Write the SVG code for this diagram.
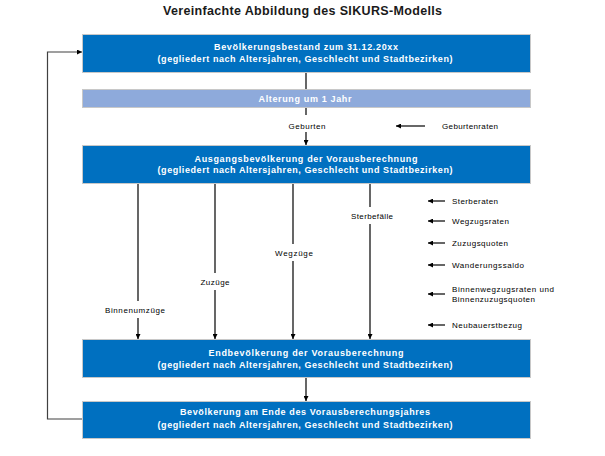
<svg xmlns="http://www.w3.org/2000/svg" width="605" height="456" viewBox="0 0 605 456">
<style>
.box{fill:#0070C0;stroke:#C8C8C8;stroke-width:1}
.box2{fill:#8EAADB;stroke:#C8C8C8;stroke-width:1}
.bt{font-family:"Liberation Sans",Arial,sans-serif;font-size:9px;font-weight:bold;fill:#fff;text-anchor:middle}
.lb{font-family:"Liberation Sans",Arial,sans-serif;font-size:8px;fill:#000}
.c{text-anchor:middle}
.ln{stroke:#000;stroke-width:1.2;fill:none}
.fb{stroke:#404040;stroke-width:1.2;fill:none}
</style>
<defs>
<marker id="ah" viewBox="0 0 10 10" refX="10" refY="5" markerWidth="5" markerHeight="5" orient="auto" markerUnits="userSpaceOnUse"><path d="M0,0L10,5L0,10z" fill="#000"/></marker>
</defs>
<rect width="605" height="456" fill="#fff"/>
<text x="302.5" y="15" font-family="Liberation Sans,Arial,sans-serif" font-size="12.5" font-weight="bold" text-anchor="middle" fill="#1a1a1a" textLength="279" lengthAdjust="spacing">Vereinfachte Abbildung des SIKURS-Modells</text>

<g id="connectors">
<line class="ln" x1="306" y1="72" x2="306" y2="89"/>
<line class="ln" x1="306" y1="107" x2="306" y2="115"/>
<line class="ln" x1="306" y1="132" x2="306" y2="145" marker-end="url(#ah)"/>
<line class="ln" x1="425" y1="126" x2="396" y2="126" marker-end="url(#ah)"/>
<line class="ln" x1="138" y1="183" x2="138" y2="301"/>
<line class="ln" x1="138" y1="318" x2="138" y2="339" marker-end="url(#ah)"/>
<line class="ln" x1="215" y1="183" x2="215" y2="273"/>
<line class="ln" x1="215" y1="290" x2="215" y2="339" marker-end="url(#ah)"/>
<line class="ln" x1="293" y1="183" x2="293" y2="244"/>
<line class="ln" x1="293" y1="261" x2="293" y2="339" marker-end="url(#ah)"/>
<line class="ln" x1="370" y1="183" x2="370" y2="207"/>
<line class="ln" x1="370" y1="224" x2="370" y2="339" marker-end="url(#ah)"/>
<line class="ln" x1="445" y1="201" x2="428" y2="201" marker-end="url(#ah)"/>
<line class="ln" x1="445" y1="221" x2="428" y2="221" marker-end="url(#ah)"/>
<line class="ln" x1="445" y1="243" x2="428" y2="243" marker-end="url(#ah)"/>
<line class="ln" x1="445" y1="265" x2="428" y2="265" marker-end="url(#ah)"/>
<line class="ln" x1="445" y1="294" x2="428" y2="294" marker-end="url(#ah)"/>
<line class="ln" x1="445" y1="325" x2="428" y2="325" marker-end="url(#ah)"/>
<line class="ln" x1="306" y1="377" x2="306" y2="401" marker-end="url(#ah)"/>
<polyline class="fb" points="82,419 47.5,419 47.5,52 82,52" marker-end="url(#ah)"/>
</g>

<g id="n1"><rect class="box" x="82.5" y="34.5" width="448" height="38"/>
<text class="bt" x="306" y="50" textLength="184" lengthAdjust="spacing">Bevölkerungsbestand zum 31.12.20xx</text>
<text class="bt" x="305" y="62" textLength="295" lengthAdjust="spacing">(gegliedert nach Altersjahren, Geschlecht und Stadtbezirken)</text></g>

<g id="n2"><rect class="box2" x="82.5" y="89.5" width="448" height="18"/>
<text class="bt" x="305" y="102" textLength="93" lengthAdjust="spacing">Alterung um 1 Jahr</text></g>

<g id="n3"><rect class="box" x="82.5" y="145.5" width="448" height="38"/>
<text class="bt" x="306" y="161.5" textLength="223" lengthAdjust="spacing">Ausgangsbevölkerung der Vorausberechnung</text>
<text class="bt" x="305" y="173" textLength="295" lengthAdjust="spacing">(gegliedert nach Altersjahren, Geschlecht und Stadtbezirken)</text></g>

<g id="n4"><rect class="box" x="82.5" y="339.5" width="448" height="38"/>
<text class="bt" x="306" y="356" textLength="195" lengthAdjust="spacing">Endbevölkerung der Vorausberechnung</text>
<text class="bt" x="305" y="367.5" textLength="295" lengthAdjust="spacing">(gegliedert nach Altersjahren, Geschlecht und Stadtbezirken)</text></g>

<g id="n5"><rect class="box" x="82.5" y="401.5" width="448" height="37"/>
<text class="bt" x="305" y="415" textLength="250" lengthAdjust="spacing">Bevölkerung am Ende des Vorausberechungsjahres</text>
<text class="bt" x="305" y="428" textLength="295" lengthAdjust="spacing">(gegliedert nach Altersjahren, Geschlecht und Stadtbezirken)</text></g>

<g id="labels">
<text class="lb c" x="307" y="129" textLength="37" lengthAdjust="spacing">Geburten</text>
<text class="lb" x="442" y="129" textLength="56" lengthAdjust="spacing">Geburtenraten</text>
<text class="lb c" x="135" y="313" textLength="60" lengthAdjust="spacing">Binnenumzüge</text>
<text class="lb c" x="215" y="285" textLength="29" lengthAdjust="spacing">Zuzüge</text>
<text class="lb c" x="294" y="256" textLength="38" lengthAdjust="spacing">Wegzüge</text>
<text class="lb c" x="372" y="219" textLength="42" lengthAdjust="spacing">Sterbefälle</text>
<text class="lb" x="452" y="204" textLength="46" lengthAdjust="spacing">Sterberaten</text>
<text class="lb" x="452" y="224" textLength="57" lengthAdjust="spacing">Wegzugsraten</text>
<text class="lb" x="452" y="246" textLength="56" lengthAdjust="spacing">Zuzugsquoten</text>
<text class="lb" x="452" y="268" textLength="72" lengthAdjust="spacing">Wanderungssaldo</text>
<text class="lb" x="452" y="292" textLength="102" lengthAdjust="spacing">Binnenwegzugsraten  und</text>
<text class="lb" x="452" y="302" textLength="83" lengthAdjust="spacing">Binnenzuzugsquoten</text>
<text class="lb" x="452" y="328" textLength="70" lengthAdjust="spacing">Neubauerstbezug</text>
</g>
</svg>
